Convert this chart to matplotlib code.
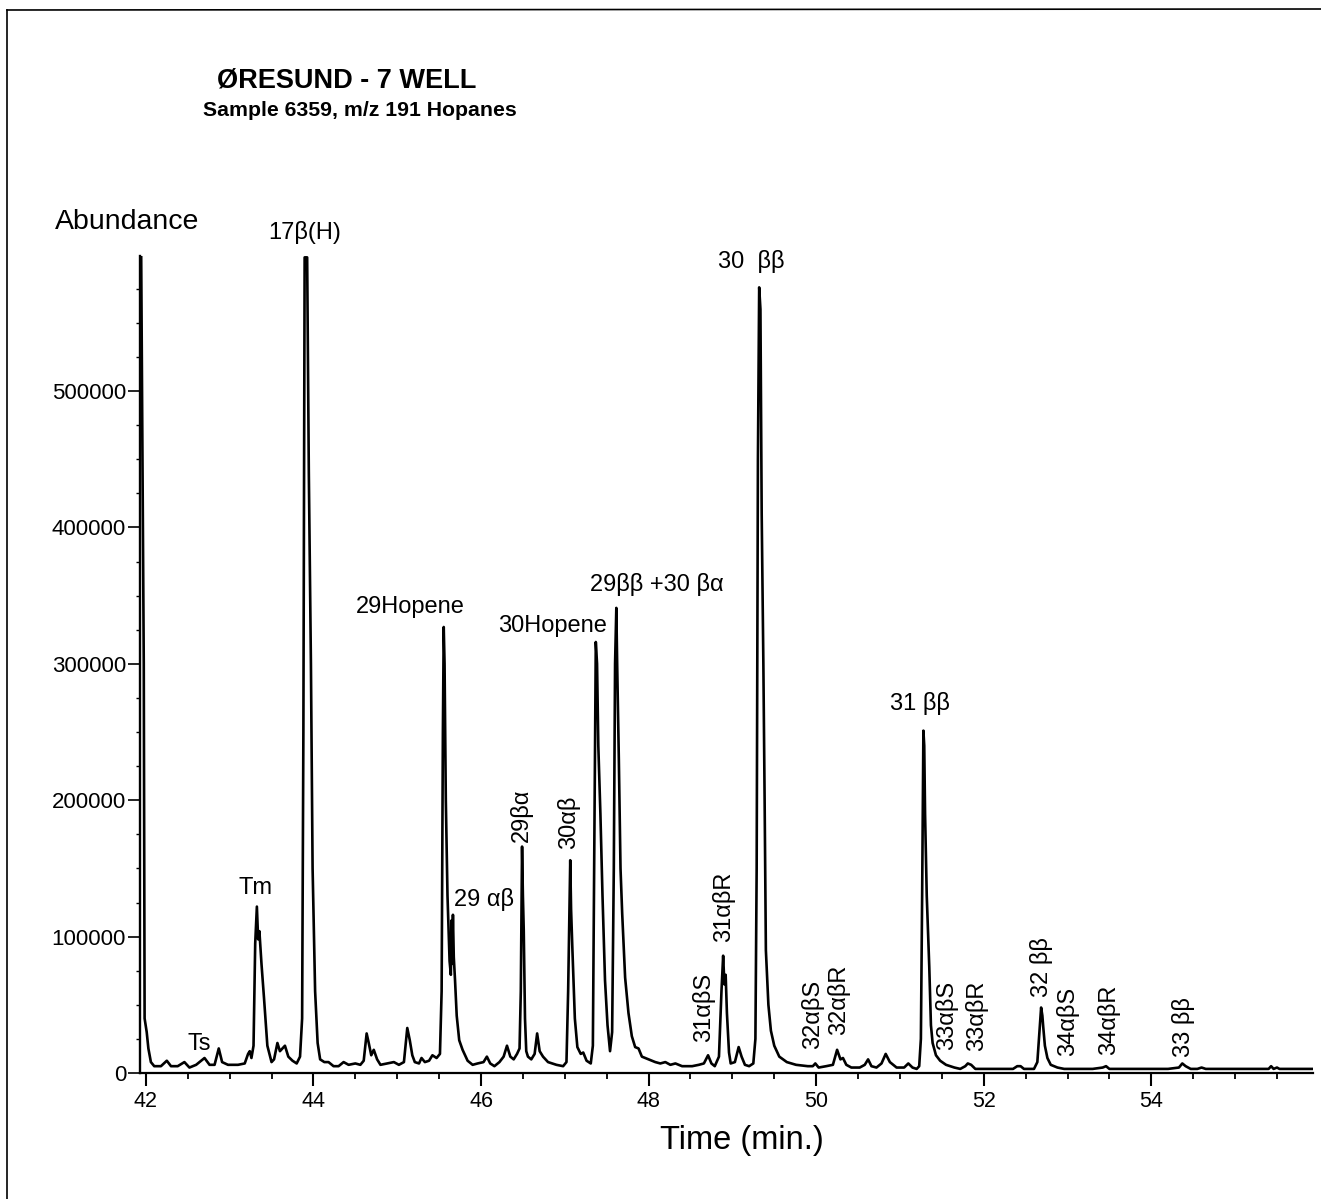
import matplotlib
matplotlib.use("Agg")
import matplotlib.pyplot as plt
import numpy as np
from matplotlib.lines import Line2D
from matplotlib.ticker import MultipleLocator

plt.rcParams['font.family'] = ['Liberation Sans', 'DejaVu Sans']

# trace: time (min) and abundance (thousands)
time_min = [41.94, 41.975, 41.985, 41.995, 42.01, 42.03, 42.06, 42.10, 42.18, 42.25,
            42.30, 42.38, 42.46, 42.52, 42.60, 42.70, 42.76, 42.82, 42.87, 42.91,
            42.98, 43.10, 43.18, 43.22, 43.24, 43.26, 43.285, 43.305, 43.325, 43.34,
            43.355, 43.38, 43.41, 43.45, 43.50, 43.53, 43.57, 43.60, 43.63, 43.66,
            43.70, 43.75, 43.80, 43.84, 43.865, 43.88, 43.895, 43.925, 43.945, 43.97,
            43.99, 44.02, 44.05, 44.08, 44.13, 44.18, 44.24, 44.30, 44.36, 44.42,
            44.50, 44.56, 44.60, 44.635, 44.66, 44.69, 44.72, 44.76, 44.80, 44.88,
            44.96, 45.02, 45.08, 45.12, 45.15, 45.18, 45.21, 45.26, 45.29, 45.33,
            45.38, 45.42, 45.47, 45.51, 45.53, 45.545, 45.555, 45.565, 45.58, 45.60,
            45.625, 45.64, 45.65, 45.655, 45.665, 45.675, 45.69, 45.71, 45.74, 45.78,
            45.84, 45.90, 45.96, 46.03, 46.07, 46.11, 46.16, 46.22, 46.27, 46.31,
            46.35, 46.39, 46.43, 46.46, 46.475, 46.49, 46.50, 46.51, 46.525, 46.54,
            46.56, 46.60, 46.64, 46.67, 46.70, 46.74, 46.80, 46.90, 46.98, 47.02,
            47.04, 47.055, 47.065, 47.075, 47.09, 47.12, 47.15, 47.19, 47.22, 47.26,
            47.31, 47.335, 47.35, 47.37, 47.385, 47.40, 47.425, 47.45, 47.48, 47.51,
            47.54, 47.565, 47.585, 47.60, 47.615, 47.625, 47.645, 47.665, 47.685, 47.72,
            47.76, 47.80, 47.84, 47.88, 47.92, 48.00, 48.08, 48.14, 48.20, 48.26,
            48.32, 48.40, 48.52, 48.60, 48.66, 48.71, 48.75, 48.79, 48.84, 48.87,
            48.89, 48.905, 48.92, 48.935, 48.96, 48.98, 49.03, 49.075, 49.11, 49.15,
            49.20, 49.25, 49.275, 49.29, 49.305, 49.32, 49.335, 49.35, 49.37, 49.385,
            49.40, 49.43, 49.46, 49.50, 49.56, 49.65, 49.76, 49.90, 49.96, 49.99,
            50.03, 50.12, 50.20, 50.25, 50.29, 50.32, 50.36, 50.42, 50.52, 50.58,
            50.62, 50.66, 50.72, 50.78, 50.83, 50.88, 50.96, 51.05, 51.10, 51.15,
            51.20, 51.23, 51.25, 51.265, 51.28, 51.29, 51.30, 51.32, 51.35, 51.37,
            51.39, 51.43, 51.48, 51.55, 51.65, 51.72, 51.78, 51.81, 51.85, 51.90,
            52.00, 52.20, 52.35, 52.40, 52.44, 52.48, 52.60, 52.64, 52.67, 52.685,
            52.70, 52.71, 52.73, 52.76, 52.80, 52.88, 52.96, 53.10, 53.30, 53.42,
            53.46, 53.50, 53.60, 53.90, 54.20, 54.33, 54.37, 54.41, 54.47, 54.55,
            54.60, 54.65, 55.00, 55.40, 55.43, 55.46, 55.50, 55.53, 55.93]
abund_k = [640, 300, 40, 36, 30, 18, 8, 5, 5, 9,
           5, 5, 8, 4, 6, 11, 6, 6, 18, 8,
           6, 6, 7, 14, 16, 11, 20, 95, 122, 98,
           104, 80, 55, 20, 8, 10, 22, 16, 18, 20,
           12, 9, 7, 12, 40, 250, 598, 598, 440, 300,
           150, 60, 22, 10, 8, 8, 5, 5, 8, 6,
           7, 6, 9, 29, 22, 13, 17, 10, 6, 7,
           8, 6, 8, 33, 24, 13, 8, 7, 11, 8,
           9, 13, 11, 14, 60, 250, 327, 300, 200, 130,
           82, 72, 112, 80, 116, 85, 68, 42, 24, 17,
           9, 6, 7, 8, 12, 7, 5, 8, 12, 20,
           12, 10, 14, 18, 60, 166, 130, 105, 40, 16,
           12, 10, 14, 29, 16, 12, 8, 6, 5, 8,
           60, 119, 156, 120, 92, 40, 19, 14, 15, 9,
           7, 20, 150, 316, 300, 240, 190, 130, 68, 35,
           16, 30, 150, 300, 341, 300, 230, 150, 117, 70,
           44, 27, 19, 18, 12, 10, 8, 7, 8, 6,
           7, 5, 5, 6, 7, 13, 7, 5, 12, 60,
           86, 65, 72, 44, 15, 7, 8, 19, 12, 6,
           5, 7, 25, 150, 450, 576, 560, 410, 300, 200,
           90, 50, 31, 20, 12, 8, 6, 5, 5, 7,
           4, 5, 6, 17, 10, 11, 6, 4, 4, 6,
           10, 5, 4, 7, 14, 8, 4, 4, 7, 4,
           3, 5, 25, 130, 251, 240, 190, 130, 78, 35,
           22, 13, 9, 6, 4, 3, 5, 7, 6, 3,
           3, 3, 3, 5, 5, 3, 3, 8, 35, 48,
           42, 34, 20, 11, 6, 4, 3, 3, 3, 4,
           5, 3, 3, 3, 3, 4, 7, 5, 3, 3,
           4, 3, 3, 3, 5, 3, 4, 3, 3]

# peak labels: text, time, abundance (k), rotation
peak_text = ["Ts", "Tm", "17\u03b2(H)", "29Hopene", "29 \u03b1\u03b2", "29\u03b2\u03b1",
             "30\u03b1\u03b2", "30Hopene", "29\u03b2\u03b2 +30 \u03b2\u03b1", "31\u03b1\u03b2S",
             "31\u03b1\u03b2R", "30  \u03b2\u03b2", "32\u03b1\u03b2S", "32\u03b1\u03b2R", "31 \u03b2\u03b2",
             "33\u03b1\u03b2S", "33\u03b1\u03b2R", "32 \u03b2\u03b2", "34\u03b1\u03b2S", "34\u03b1\u03b2R",
             "33 \u03b2\u03b2"]
peak_t = [42.64, 43.31, 43.90, 45.16, 46.03, 46.48,
          47.05, 46.85, 48.10, 48.66,
          48.90, 49.22, 49.96, 50.27, 51.24,
          51.56, 51.92, 52.69, 53.00, 53.49,
          54.38]
peak_y = [21, 136, 616, 342, 127, 189,
          184, 328, 358, 48,
          122, 595, 43, 54, 271,
          42, 42, 78, 38, 39,
          34]
peak_rot = [0, 0, 0, 0, 0, 90,
            90, 0, 0, 90,
            90, 0, 90, 90, 0,
            90, 90, 90, 90, 90,
            90]

fig = plt.figure(figsize=(13.21, 11.99), dpi=100)
ax = fig.add_axes([140 / 1321, 126 / 1199, 1173 / 1321, 817 / 1199])

ax.plot(time_min, np.array(abund_k) * 1000, color='black', lw=1.9)

ax.set_xlim(41.93, 55.93)
ax.set_ylim(0, 599000)
ax.spines['top'].set_visible(False)
ax.spines['right'].set_visible(False)
ax.spines['left'].set_linewidth(1.7)
ax.spines['bottom'].set_linewidth(1.6)

ax.set_xticks(np.arange(42, 55, 2))
ax.xaxis.set_minor_locator(MultipleLocator(0.5))
ax.set_yticks(np.arange(0, 500001, 100000))
ax.set_yticklabels([str(v) for v in range(0, 500001, 100000)])
ax.yaxis.set_minor_locator(MultipleLocator(25000))
ax.tick_params(axis='x', which='major', length=9, width=1.5, labelsize=15.5, pad=4)
ax.tick_params(axis='x', which='minor', length=4.5, width=1.3)
ax.tick_params(axis='y', which='major', length=8.5, width=1.2, labelsize=16, pad=1.5)
ax.tick_params(axis='y', which='minor', length=3, width=1.0)

for txt, t, y, r in zip(peak_text, peak_t, peak_y, peak_rot):
    ax.text(t, y * 1000, txt, rotation=r, ha='center', va='center',
            fontsize=17, clip_on=False)

fig.text(347 / 1321, 1 - 80 / 1199, "\u00d8RESUND - 7 WELL", ha='center', va='center',
         fontsize=19.5, fontweight='bold')
fig.text(360 / 1321, 1 - 111 / 1199, "Sample 6359, m/z 191 Hopanes", ha='center',
         va='center', fontsize=15.3, fontweight='bold')
fig.text(127 / 1321, 1 - 222 / 1199, "Abundance", ha='center', va='center', fontsize=20.5)
fig.text(742 / 1321, 1 - 1140 / 1199, "Time (min.)", ha='center', va='center', fontsize=23.5)

# frame line round the page (left and top only)
fig.add_artist(Line2D([7 / 1321, 7 / 1321], [0, 1 - 10 / 1199], color='black', lw=1.2,
                      transform=fig.transFigure))
fig.add_artist(Line2D([7 / 1321, 1], [1 - 10 / 1199, 1 - 9 / 1199], color='black', lw=1.2,
                      transform=fig.transFigure))

fig.savefig("out.png", dpi=100)
